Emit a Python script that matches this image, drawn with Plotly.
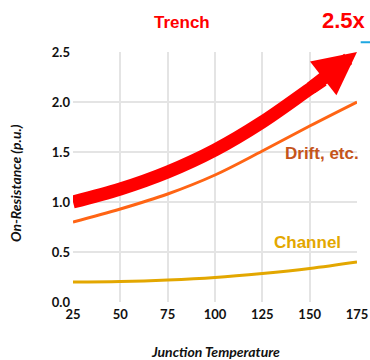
import plotly.graph_objects as go

temps = [25, 50, 75, 100, 125, 150, 175]
drift = [0.80, 0.93, 1.08, 1.27, 1.51, 1.76, 2.00]
channel = [0.20, 0.205, 0.22, 0.245, 0.285, 0.335, 0.40]
trench_x = [25, 50, 75, 100, 125, 150, 157]
trench_y = [1.00, 1.13, 1.30, 1.52, 1.80, 2.13, 2.22]
arrow_tip = (175, 2.5)
x_ticks = [25, 50, 75, 100, 125, 150, 175]
y_ticks = [0.0, 0.5, 1.0, 1.5, 2.0, 2.5]

RED = "#ff0000"
ORANGE = "#ff6414"
GOLD = "#e3a700"

fig = go.Figure()
fig.add_trace(go.Scatter(x=temps, y=channel, mode="lines",
                         line=dict(color=GOLD, width=3, shape="spline"), hoverinfo="skip"))
fig.add_trace(go.Scatter(x=temps, y=drift, mode="lines",
                         line=dict(color=ORANGE, width=3, shape="spline"), hoverinfo="skip"))
fig.add_trace(go.Scatter(x=trench_x, y=trench_y, mode="lines",
                         line=dict(color=RED, width=13, shape="spline"), hoverinfo="skip"))

# arrow head pointing to the 2.5x tip
fig.add_annotation(x=arrow_tip[0], y=arrow_tip[1], ax=trench_x[-2], ay=trench_y[-2],
                   xref="x", yref="y", axref="x", ayref="y",
                   text="", showarrow=True, arrowhead=2, arrowwidth=13,
                   arrowsize=0.66, arrowcolor=RED, standoff=0)

fig.add_annotation(x=0.383, y=1.119, xref="paper", yref="paper", text="<b>Trench</b>",
                   xanchor="center", yanchor="middle",
                   showarrow=False, font=dict(family="Liberation Sans", size=17, color=RED))
fig.add_annotation(x=0.955, y=1.125, xref="paper", yref="paper", text="<b>2.5x</b>",
                   xanchor="center", yanchor="middle",
                   showarrow=False, font=dict(family="Liberation Sans", size=22, color=RED))
fig.add_annotation(x=156.4, y=1.49, xref="x", yref="y", text="<b>Drift, etc.</b>",
                   xanchor="center", yanchor="middle",
                   showarrow=False, font=dict(family="Liberation Sans", size=17, color="#c5541a"))
fig.add_annotation(x=149, y=0.60, xref="x", yref="y", text="<b>Channel</b>",
                   xanchor="center", yanchor="middle",
                   showarrow=False, font=dict(family="Liberation Sans", size=17, color=GOLD))

fig.add_annotation(x=-0.205, y=0.475, xref="paper", yref="paper",
                   xanchor="center", yanchor="middle",
                   text="<b><i>On-Resistance (p.u.)</i></b>", textangle=-90, showarrow=False,
                   font=dict(family="Lato", size=14, color="#111111"))
fig.add_annotation(x=0.502, y=-0.197, xref="paper", yref="paper",
                   xanchor="center", yanchor="middle",
                   text="<b><i>Junction Temperature</i></b>", showarrow=False,
                   font=dict(family="Lato", size=14, color="#111111"))

fig.add_shape(type="line", xref="paper", yref="paper", x0=1.013, x1=1.05, y0=1.039, y1=1.039,
              line=dict(color="#1ea7e1", width=2))

fig.update_layout(
    width=370, height=360,
    margin=dict(l=73, r=13, t=52, b=58, autoexpand=False),
    paper_bgcolor="white", plot_bgcolor="white",
    showlegend=False,
    font=dict(family="Lato", size=13, color="#111111"),
)
fig.update_xaxes(range=[25, 175], tickvals=x_ticks, ticktext=[f"<b>{v}</b>" for v in x_ticks],
                 showgrid=True, gridcolor="#e4e4e4", gridwidth=1.5, zeroline=False,
                 showline=False, ticks="", ticklabelstandoff=3, automargin=False)
fig.update_yaxes(range=[0, 2.5], tickvals=y_ticks, ticktext=[f"<b>{v:.1f}</b>" for v in y_ticks],
                 showgrid=True, gridcolor="#e4e4e4", gridwidth=1.5, zeroline=False,
                 showline=False, ticks="", ticklabelstandoff=2, automargin=False)

fig.write_html("out.html", config={"displayModeBar": False},
               post_script="document.body.style.margin='0px';document.body.style.overflow='hidden';")
